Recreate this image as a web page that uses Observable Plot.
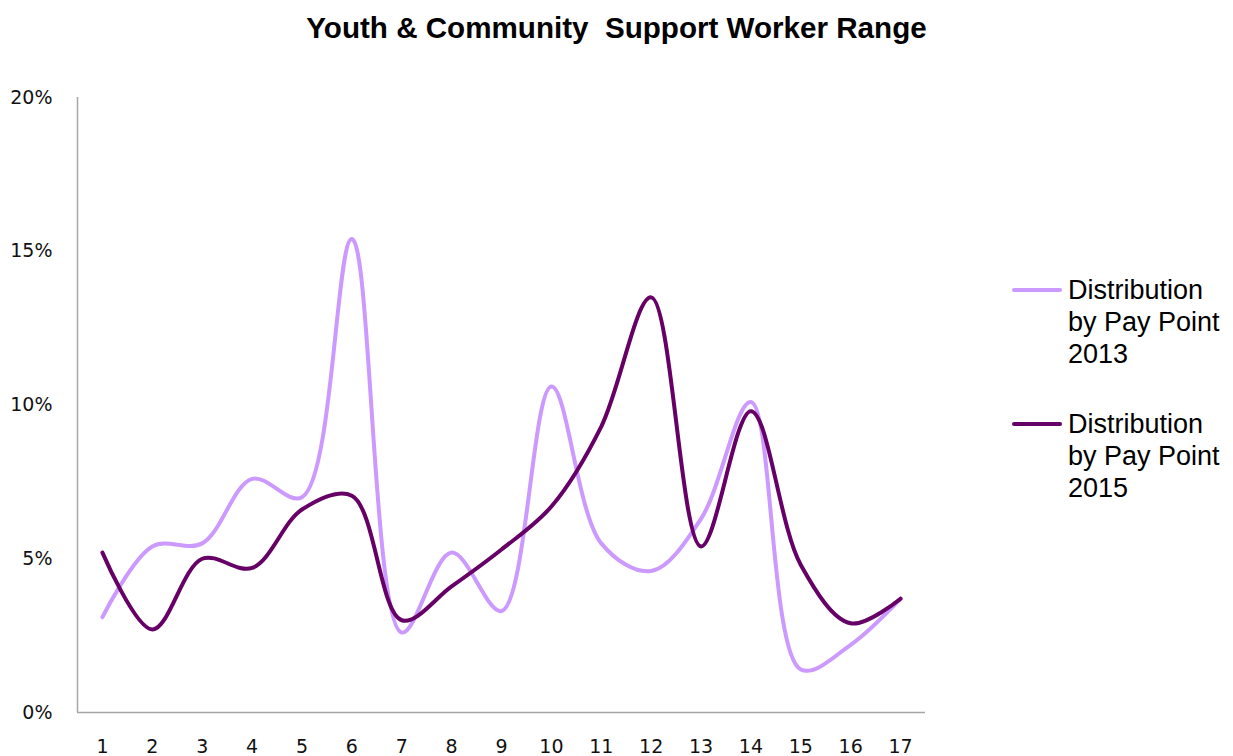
<!DOCTYPE html>
<html>
<head>
<meta charset="utf-8">
<script src="https://cdn.jsdelivr.net/npm/d3@7"></script>
<script src="https://cdn.jsdelivr.net/npm/@observablehq/plot@0.6"></script>
<style>
  html, body { margin: 0; padding: 0; background: #fff; }
  #wrap { position: relative; width: 1233px; height: 756px; overflow: hidden; }
  #title { height: 56px; line-height: 56px; text-align: center; font-family: "Liberation Sans", Arial, sans-serif; font-weight: bold; font-size: 29.6px; color: #000; }
  #legend { position: absolute; left: 1012px; top: 274px; font-family: "Liberation Sans", Arial, sans-serif; font-size: 27px; line-height: 32px; color: #000; }
  .item { display: flex; align-items: flex-start; margin-bottom: 38px; }
  .sw { width: 50px; height: 4px; margin-top: 14px; margin-right: 6px; border-radius: 2px; }
</style>
</head>
<body>
<div id="wrap">
  <div id="title">Youth &amp; Community&nbsp; Support Worker Range</div>
  <div id="chart"></div>
  <div id="legend"></div>
</div>
<script>
const payPoints = [1, 2, 3, 4, 5, 6, 7, 8, 9, 10, 11, 12, 13, 14, 15, 16, 17];
const dist2013 = [3.1, 5.4, 5.5, 7.6, 7.0, 15.4, 2.6, 5.2, 3.3, 10.6, 5.5, 4.6, 6.3, 10.1, 1.4, 2.2, 3.7];
const dist2015 = [5.2, 2.7, 5.0, 4.7, 6.6, 7.05, 3.0, 4.1, 5.3, 6.7, 9.3, 13.5, 5.4, 9.8, 4.8, 2.9, 3.7];
const yTicks = [0, 5, 10, 15, 20];
const seriesNames = ["Distribution by Pay Point 2013", "Distribution by Pay Point 2015"];
const seriesColors = ["#cc99ff", "#660066"];

const chart = Plot.plot({
  width: 960,
  height: 700,
  marginTop: 41,
  marginBottom: 44,
  marginLeft: 77,
  marginRight: 35,
  style: { fontFamily: "'DejaVu Sans', Verdana, sans-serif", fontSize: "19px", color: "#111", background: "#fff" },
  x: { domain: [0.5, 17.5], ticks: payPoints, tickSize: 0, tickPadding: 27, tickFormat: d => String(d), label: null },
  y: { domain: [0, 20], ticks: yTicks, tickSize: 0, tickPadding: 25, tickFormat: d => d + "%", label: null },
  marks: [
    Plot.ruleY([0], { stroke: "#a6a6a6", strokeWidth: 1.5 }),
    Plot.ruleX([0.5], { stroke: "#a6a6a6", strokeWidth: 1.5 }),
    Plot.line(payPoints, { x: d => d, y: (d, i) => dist2013[i], stroke: seriesColors[0], strokeWidth: 4, curve: "catmull-rom" }),
    Plot.line(payPoints, { x: d => d, y: (d, i) => dist2015[i], stroke: seriesColors[1], strokeWidth: 4, curve: "catmull-rom" })
  ]
});
document.getElementById("chart").appendChild(chart);

const legend = document.getElementById("legend");
const labelLines = [["Distribution", "by Pay Point", "2013"], ["Distribution", "by Pay Point", "2015"]];
seriesNames.forEach((name, i) => {
  const item = document.createElement("div");
  item.className = "item";
  const sw = document.createElement("div");
  sw.className = "sw";
  sw.style.background = seriesColors[i];
  const txt = document.createElement("div");
  txt.innerHTML = labelLines[i].join("<br>");
  item.appendChild(sw);
  item.appendChild(txt);
  legend.appendChild(item);
});
</script>
</body>
</html>
